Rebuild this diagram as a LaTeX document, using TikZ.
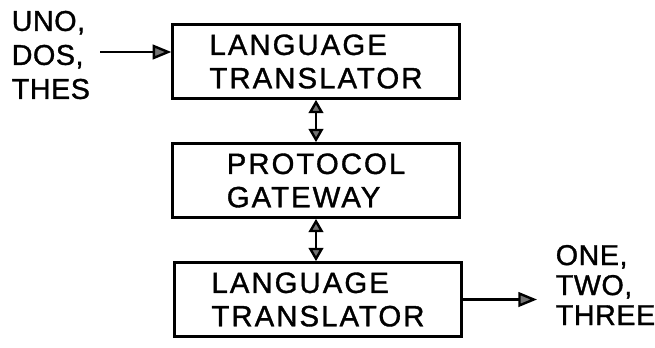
\documentclass[tikz,border=0pt]{standalone}
\usepackage{fontspec}
\setmainfont{Liberation Sans}
\newfontfamily\boxfont[LetterSpace=7,FakeBold=1.2]{Liberation Sans}
\newfontfamily\wordfont[LetterSpace=2,FakeBold=1.2]{Liberation Sans}
\usetikzlibrary{arrows.meta}

\tikzset{
  unitbox/.style={draw, line width=2pt, minimum width=215pt, minimum height=55.5pt,
    inner sep=0pt, align=left, font={\fontsize{22}{25}\boxfont}},
  flow/.style={line width=1.8pt, -{Triangle[length=14pt,width=11pt,fill=black!55]}},
  link/.style={line width=1.8pt, {Triangle[length=10pt,width=11pt,fill=black!55]}-{Triangle[length=10pt,width=11pt,fill=black!55]}}
}

\begin{document}
\begin{tikzpicture}[x=0.75pt,y=-0.75pt]
\useasboundingbox (0,0) rectangle (655,347);

% the three stages, top to bottom
\node[unitbox] (top) at (316,61.5) {LANGUAGE\\TRANSLATOR};
\node[unitbox] (mid) at (316,180.5) {PROTOCOL\\GATEWAY};
\node[unitbox] (bot) at (318,299.5) {LANGUAGE\\TRANSLATOR};

% words going in and coming out
\node[anchor=west, inner sep=0pt, align=left, font={\fontsize{21.5}{25.5}\wordfont}] (inwords) at (11.5,55) {UNO,\\DOS,\\THES};
\node[anchor=west, inner sep=0pt, align=left, font={\fontsize{21.5}{22.5}\wordfont}] (outwords) at (555.5,285) {ONE,\\TWO,\\THREE};

% connectors
\coordinate (insrc) at (100,52);
\coordinate (outtip) at (537,296);
\draw[flow] (insrc) -- (insrc -| top.west);
\draw[flow] (bot.east) -- (bot.east -| outtip);
\draw[link] (top.south) -- (mid.north);
\draw[link] (mid.south) -- (mid.south |- bot.north);

\end{tikzpicture}
\end{document}
